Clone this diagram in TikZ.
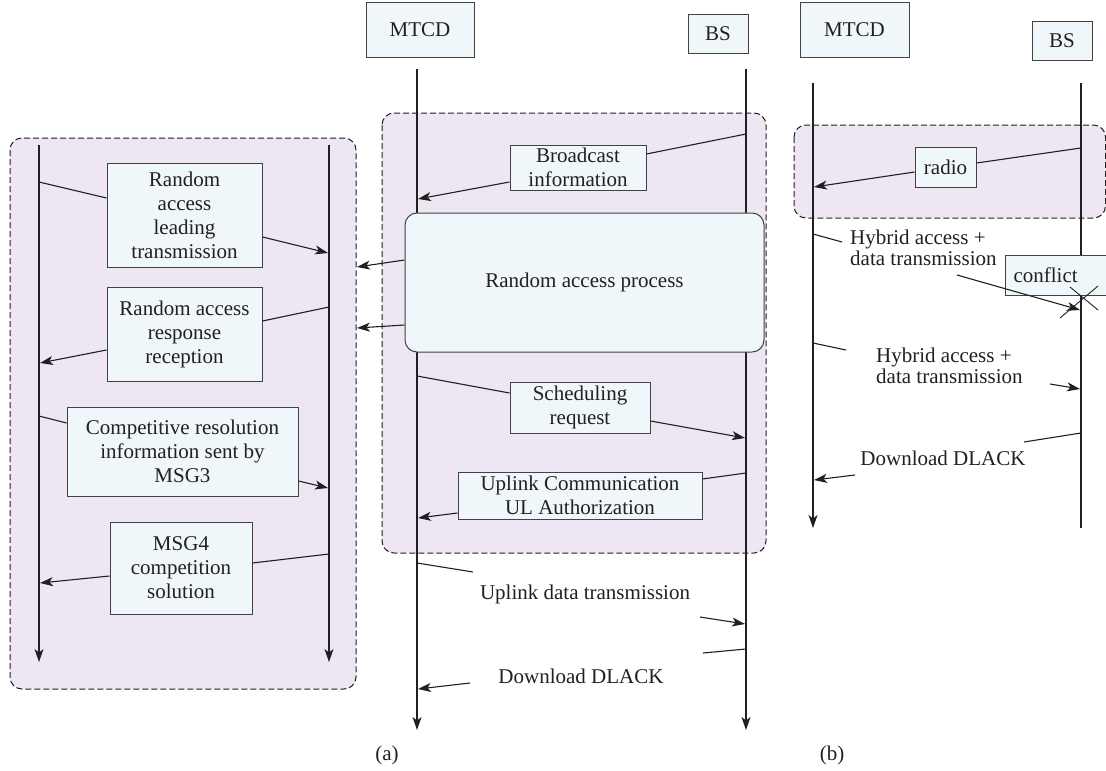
\documentclass[tikz,border=0pt]{standalone}
\usepackage{fontspec}
\setmainfont{Liberation Serif}
\usetikzlibrary{arrows.meta}
\definecolor{panelfill}{HTML}{EEE6F3}
\definecolor{boxfill}{HTML}{EFF7FA}
\definecolor{inkline}{HTML}{231F20}
\tikzset{
  txt/.style={inner sep=0pt, align=center, font=\fontsize{21}{24}\selectfont, text=inkline},
  box/.style={txt, draw=inkline!85, fill=boxfill, line width=1pt},
  panel/.style={draw=inkline, dashed, dash pattern=on 6pt off 3pt, fill=panelfill, line width=1pt, rounded corners=12pt},
  life/.style={draw=inkline, line width=1.1pt},
  lifearr/.style={life, -{Stealth[length=13pt,width=9pt,inset=3.5pt]}},
  msg/.style={draw=inkline, line width=1.1pt},
  msgarr/.style={msg, -{Stealth[length=13pt,width=9pt,inset=3.5pt]}},
}
\begin{document}
\begin{tikzpicture}[x=1pt,y=-1pt]
\useasboundingbox (0,0) rectangle (1106,771);
\clip (0,0) rectangle (1106,771);

% dashed panels
\draw[panel] (10,138) rectangle (356,689);
\draw[panel] (382,113) rectangle (766,553);
\draw[panel] (794,125) rectangle (1105.5,218);

% ---------- left panel: detailed random access ----------
\coordinate (LA) at (39,145);  \coordinate (LAe) at (39,662);
\coordinate (LB) at (329,145); \coordinate (LBe) at (329,662);
\draw[lifearr] (LA) -- (LAe);
\draw[lifearr] (LB) -- (LBe);

\node[box, minimum width=155pt, minimum height=104pt] (p1) at (184.5,215)
  {Random\\access\\leading\\transmission};
\node[box, minimum width=155pt, minimum height=94pt] (p2) at (184.5,334)
  {Random access\\response\\reception};
\node[box, minimum width=231pt, minimum height=89pt] (p3) at (182.5,451.5)
  {Competitive resolution\\information sent by\\MSG3};
\node[box, minimum width=142pt, minimum height=92pt] (p4) at (181,568)
  {MSG4\\competition\\solution};

\draw[msg] (LA |- 0,182) -- (p1.west |- 0,198);
\draw[msgarr] (p1.east |- 0,237) -- (328,253);
\draw[msg] (LB |- 0,307) -- (p2.east |- 0,321);
\draw[msgarr] (p2.west |- 0,350) -- (40,363);
\draw[msg] (LA |- 0,416) -- (p3.west |- 0,423);
\draw[msgarr] (p3.east |- 0,481) -- (328,488);
\draw[msg] (LB |- 0,554) -- (p4.east |- 0,563);
\draw[msgarr] (p4.west |- 0,576) -- (40,583);

% ---------- panel (a) ----------
\node[box, minimum width=108pt, minimum height=55pt] (mtcdA) at (420,29.5) {MTCD};
\node[box, minimum width=60pt, minimum height=39pt] (bsA) at (718,33.5) {BS};
\coordinate (MA) at (417,69);  \coordinate (MAe) at (417,730);
\coordinate (MB) at (746,69);  \coordinate (MBe) at (746,730);
\draw[lifearr] (MA) -- (MAe);
\draw[lifearr] (MB) -- (MBe);

\node[box, minimum width=136pt, minimum height=45pt] (bc) at (578,167.5)
  {Broadcast\\information};
\node[box, rounded corners=12pt, minimum width=359pt, minimum height=139pt] (rap) at (584.5,282.5)
  {Random access process};
\node[box, minimum width=140pt, minimum height=51pt] (sr) at (580,407.5)
  {Scheduling\\request};
\node[box, minimum width=244pt, minimum height=47pt] (ul) at (580,495.5)
  {Uplink Communication\\UL Authorization};

\draw[msg] (MB |- 0,134) -- (bc.east |- 0,154);
\draw[msgarr] (bc.west |- 0,182) -- (418,199);

\coordinate (toP1) at (357,267);
\coordinate (toP2) at (357,328);
\draw[msgarr] (rap.west |- 0,260) -- (toP1);
\draw[msgarr] (rap.west |- 0,325) -- (toP2);

\draw[msg] (MA |- 0,376) -- (sr.west |- 0,393);
\draw[msgarr] (sr.east |- 0,421) -- (745,438);
\draw[msg] (MB |- 0,473) -- (ul.east |- 0,479);
\draw[msgarr] (ul.west |- 0,513) -- (418,518);

\node[txt] (udt) at (585,594) {Uplink data transmission};
\coordinate (udtA) at (473,572);
\coordinate (udtB) at (700,617);
\draw[msg] (MA |- 0,563) -- (udtA);
\draw[msgarr] (udtB) -- (745,624);

\node[txt] (dlA) at (581,676) {Download DLACK};
\coordinate (dlA1) at (703,653);
\coordinate (dlA2) at (470,683);
\draw[msg] (MB |- 0,649) -- (dlA1);
\draw[msgarr] (dlA2) -- (418,689);

\node[txt] (capA) at (387,755) {(a)};

% ---------- panel (b) ----------
\node[box, minimum width=109pt, minimum height=55pt] (mtcdB) at (854.5,29.5) {MTCD};
\node[box, minimum width=60pt, minimum height=39pt] (bsB) at (1062,40.5) {BS};
\coordinate (RA) at (813,83);  \coordinate (RAe) at (813,528);
\coordinate (RB) at (1081,83); \coordinate (RBe) at (1081,528);
\draw[lifearr] (RA) -- (RAe);
\draw[life] (RB) -- (RBe);

\node[box, minimum width=61pt, minimum height=40pt] (radio) at (945.5,167) {radio};
\draw[msg] (RB |- 0,148) -- (radio.east |- 0,163);
\draw[msgarr] (radio.west |- 0,172) -- (814,187);

\node[txt, align=left, anchor=west, font=\fontsize{21}{21}\selectfont] (hy1) at (850,248)
  {Hybrid access +\\data transmission};
\coordinate (hy1a) at (842,242);
\coordinate (hy1b) at (957,275);
\draw[msg] (RA |- 0,234) -- (hy1a);
\node[box, anchor=west, minimum width=112pt, minimum height=40pt, text width=96pt, inner xsep=8pt, align=left] (cf) at (1005,275) {conflict};
\draw[msgarr] (hy1b) -- (1080,310);
\coordinate (xA1) at (1070,287); \coordinate (xA2) at (1098,310);
\coordinate (xB1) at (1060,318); \coordinate (xB2) at (1098,286);
\draw[msg, line width=0.9pt] (xA1) -- (xA2);
\draw[msg, line width=0.9pt] (xB1) -- (xB2);

\node[txt, align=left, anchor=west, font=\fontsize{21}{21}\selectfont] (hy2) at (876,366)
  {Hybrid access +\\data transmission};
\coordinate (hy2a) at (846,350);
\coordinate (hy2b) at (1050,384);
\draw[msg] (RA |- 0,343) -- (hy2a);
\draw[msgarr] (hy2b) -- (1080,389);

\node[txt] (dlB) at (943,458) {Download DLACK};
\coordinate (dlB1) at (1024,442);
\coordinate (dlB2) at (855,475);
\draw[msg] (RB |- 0,433) -- (dlB1);
\draw[msgarr] (dlB2) -- (814,480);

\node[txt] (capB) at (832,755) {(b)};
\end{tikzpicture}
\end{document}
